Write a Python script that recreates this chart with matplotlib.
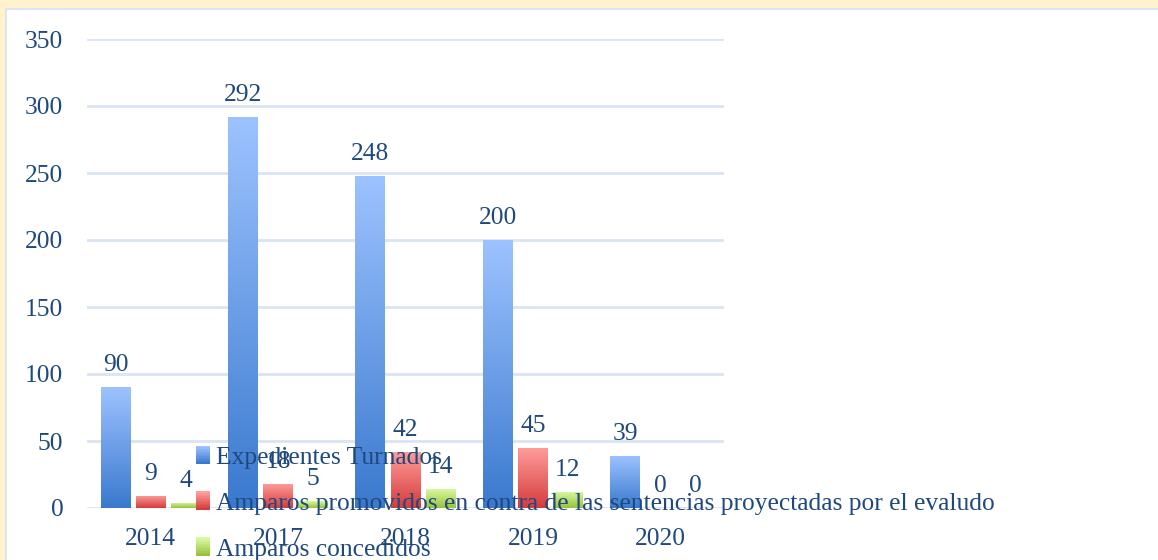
import numpy as np
import matplotlib
matplotlib.use("Agg")
import matplotlib.pyplot as plt
from matplotlib.patches import Rectangle
from matplotlib.colors import LinearSegmentedColormap

years = ["2014", "2017", "2018", "2019", "2020"]
series_names = [
    "Expedientes Turnados",
    "Amparos promovidos en contra de las sentencias proyectadas por el evaludo",
    "Amparos concedidos",
]
expedientes = [90, 292, 248, 200, 39]
amparos_promovidos = [9, 18, 42, 45, 0]
amparos_concedidos = [4, 5, 14, 12, 0]
series_values = [expedientes, amparos_promovidos, amparos_concedidos]
yticks = [0, 50, 100, 150, 200, 250, 300, 350]

grad_colors = [("#9DC3FF", "#3A79CE"), ("#FF9E9C", "#D43C3C"), ("#DAF9A2", "#98C23C")]
text_color = "#1F497D"
grid_color = "#D9E5F3"
font = ["Liberation Serif", "DejaVu Serif"]
fs = 18.4

W, H = 1158, 560
fig = plt.figure(figsize=(W / 100, H / 100), dpi=100)
fig.patch.set_facecolor("#FFF2CC")
bg = fig.add_axes([0, 0, 1, 1], zorder=-10)
bg.set_axis_off()
bg.set_xlim(0, W)
bg.set_ylim(H, 0)
bg.add_patch(Rectangle((6, 9), W + 20, H + 20, facecolor="white", edgecolor="#DCE6F2",
                       linewidth=1.5, clip_on=False))

ax = fig.add_axes([87 / W, 52 / H, (724 - 87) / W, (508 - 39) / H], zorder=1)
ax.set_facecolor("none")
for s in ax.spines.values():
    s.set_visible(False)
ax.set_yticks(yticks)
ax.set_xticks(range(len(years)))
ax.set_xticklabels(years)
ax.tick_params(axis="both", length=0, labelcolor=text_color, labelsize=fs)
ax.tick_params(axis="y", pad=17)
ax.tick_params(axis="x", pad=14.5)
for lab in ax.get_xticklabels() + ax.get_yticklabels():
    lab.set_fontfamily(font)
ax.grid(axis="y", color=grid_color, linewidth=2)
ax.set_axisbelow(True)

width = 0.235
offsets = [-0.275, 0, 0.275]
x = np.arange(len(years))
grad = np.linspace(1, 0, 256).reshape(-1, 1)
for vals, off, (ctop, cbot) in zip(series_values, offsets, grad_colors):
    cmap = LinearSegmentedColormap.from_list("g", [cbot, ctop])
    bars = ax.bar(x + off, vals, width, facecolor="none", edgecolor="none", zorder=3)
    for b, v in zip(bars, vals):
        if v > 0:
            x0, w_ = b.get_x(), b.get_width()
            im = ax.imshow(grad, cmap=cmap, aspect="auto", extent=(x0, x0 + w_, 0, v),
                           zorder=3, vmin=0, vmax=1, interpolation="bilinear")
            im.set_clip_path(b)
        ax.annotate(str(v), (b.get_x() + b.get_width() / 2, v), xytext=(0, 11.5),
                    textcoords="offset points", ha="center", va="baseline",
                    color=text_color, fontsize=fs, family=font, zorder=5)
ax.set_xlim(-0.5, len(years) - 0.5)
ax.set_ylim(0, 350)


class GradHandler:
    def __init__(self, ctop, cbot):
        self.cmap = LinearSegmentedColormap.from_list("g", [cbot, ctop])

    def legend_artist(self, legend, orig_handle, fontsize, handlebox):
        x0, y0 = -handlebox.xdescent, -handlebox.ydescent
        w, h = handlebox.width, handlebox.height
        n = 12
        arts = []
        for i in range(n):
            r = Rectangle((x0, y0 + h * i / n), w, h / n + 0.3,
                          facecolor=self.cmap(i / (n - 1)), edgecolor="none",
                          transform=handlebox.get_transform())
            handlebox.add_artist(r)
            arts.append(r)
        return arts[0]


handles = [Rectangle((0, 0), 1, 1) for _ in series_names]
handler_map = {h: GradHandler(*c) for h, c in zip(handles, grad_colors)}
leg = fig.legend(handles, series_names, loc="upper left",
                 bbox_to_anchor=(196 / W, 1 - 446 / H), frameon=False,
                 handler_map=handler_map, prop={"family": font, "size": fs},
                 handlelength=0.55, handleheight=0.7, handletextpad=0.25,
                 labelspacing=0.9, borderpad=0, borderaxespad=0)
for t in leg.get_texts():
    t.set_color(text_color)
leg.set_zorder(10)

fig.savefig("out.png", dpi=100, facecolor=fig.get_facecolor())
